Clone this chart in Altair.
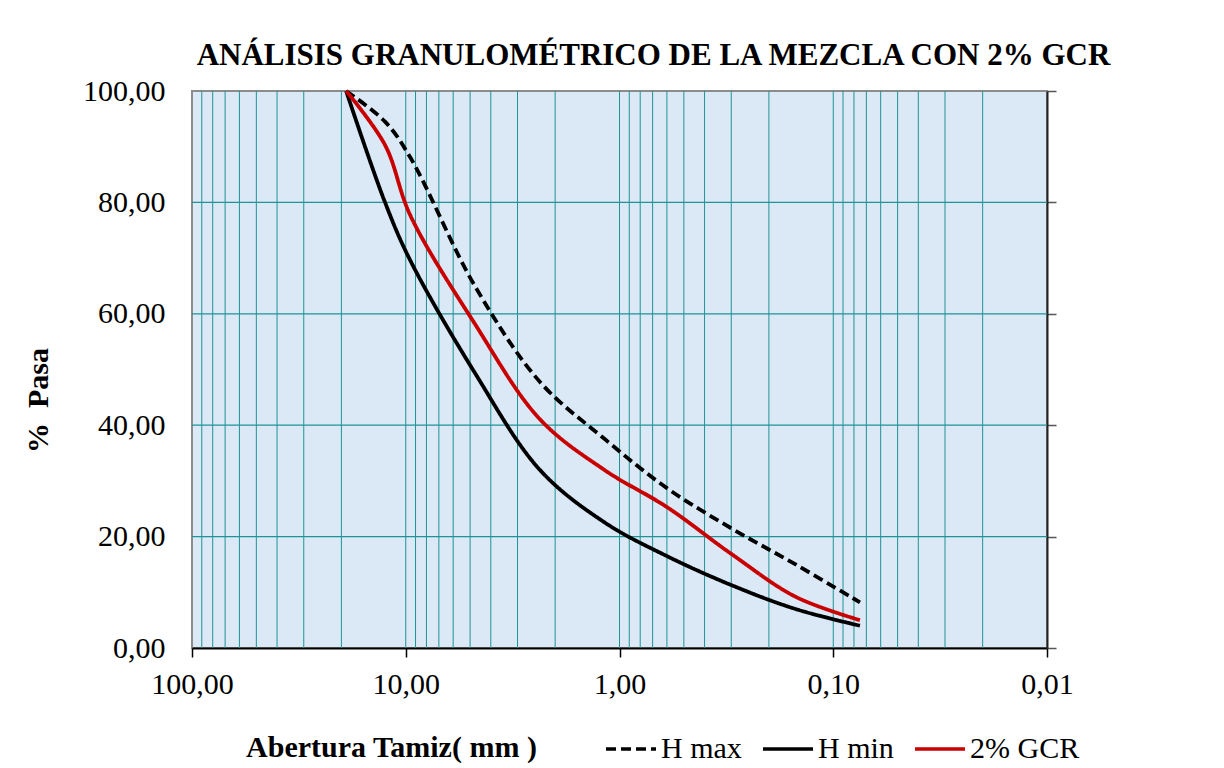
import altair as alt
import pandas as pd

# Sieve openings (mm) and % passing
tamiz_mm = [19.0, 12.5, 9.5, 4.75, 2.36, 1.18, 0.60, 0.30, 0.15, 0.075]
h_max = [100.0, 94.5, 88.0, 65.0, 47.8, 37.6, 28.7, 21.5, 15.0, 8.2]
h_min = [100.0, 80.0, 69.5, 49.4, 32.0, 22.6, 16.5, 11.3, 7.0, 4.0]
gcr_2 = [100.0, 90.3, 77.6, 58.2, 41.1, 32.0, 25.3, 16.9, 9.2, 5.0]
series_names = ["H max", "H min", "2% GCR"]

# Axis ticks / grid positions
x_ticks = [100, 10, 1, 0.1, 0.01]
x_grid = [90, 80, 70, 60, 50, 40, 30, 20, 10,
          9, 8, 7, 6, 5, 4, 3, 2, 1,
          0.9, 0.8, 0.7, 0.6, 0.5, 0.4, 0.3, 0.2, 0.1,
          0.09, 0.08, 0.07, 0.06, 0.05, 0.04, 0.03, 0.02]
y_ticks = [0, 20, 40, 60, 80, 100]
y_grid = [20, 40, 60, 80]

rows = []
for name, vals in zip(series_names, [h_max, h_min, gcr_2]):
    for d, v in zip(tamiz_mm, vals):
        rows.append({"d": d, "pasa": v, "serie": name})
df = pd.DataFrame(rows)
gx = pd.DataFrame({"d": x_grid})
gy = pd.DataFrame({"pasa": y_grid})

FONT = "Liberation Serif"
TEAL = "#1f9494"
fmt = "replace(format(datum.value, '.2f'), '.', ',')"

xscale = alt.Scale(type="log", domain=[0.01, 100], reverse=True, nice=False)
yscale = alt.Scale(domain=[0, 100], nice=False, zero=True)

xaxis = alt.Axis(values=x_ticks, labelExpr=fmt, grid=False, ticks=True, tickSize=9,
                 tickColor="#000000", tickWidth=1.5, domain=True, domainColor="#000000",
                 domainWidth=2, labelFontSize=30, labelFont=FONT, labelColor="#000000",
                 labelPadding=12, labelFlush=False,
                 title="Abertura Tamiz( mm )", titleFont=FONT, titleFontSize=30,
                 titleFontWeight="bold", titleColor="#000000", titleX=199, titleY=99,
                 titleBaseline="middle", titleAlign="center")
x_enc = alt.X("d:Q", scale=xscale, axis=xaxis)

left_axis = alt.Axis(orient="left", values=y_ticks, labelExpr=fmt, grid=False, ticks=False,
                     tickSize=0, domain=False, labelFontSize=30, labelFont=FONT,
                     labelColor="#000000", labelPadding=27,
                     title="%\u00a0\u00a0Pasa", titleFont=FONT, titleFontSize=30,
                     titleFontWeight="bold", titleColor="#000000",
                     titleX=-154, titleY=309, titleBaseline="middle", titleAlign="center",
                     titleAngle=270)
right_axis = alt.Axis(orient="right", values=y_ticks, labels=False, grid=False, ticks=True,
                      tickSize=9, tickColor="#555555", tickWidth=1.5, domain=True,
                      domainColor="#222222", domainWidth=2, title="")

legend_kw = dict(title=None, orient="none", legendX=412, legendY=631,
                 direction="horizontal", symbolType="stroke", symbolSize=2500,
                 symbolStrokeWidth=3.5, labelFont=FONT, labelFontSize=30,
                 labelColor="#000000", labelOffset=3, columnPadding=14,
                 padding=0, labelLimit=400)

vgrid = alt.Chart(gx).mark_rule(color=TEAL, strokeWidth=1).encode(x=x_enc)
hgrid = alt.Chart(gy).mark_rule(color=TEAL, strokeWidth=1.3).encode(
    y=alt.Y("pasa:Q", scale=yscale, axis=right_axis))

lines = alt.Chart(df).mark_line(strokeWidth=3.8, interpolate="catmull-rom").encode(
    x=x_enc,
    y=alt.Y("pasa:Q", scale=yscale, axis=left_axis),
    color=alt.Color("serie:N",
                    scale=alt.Scale(domain=series_names,
                                    range=["#000000", "#000000", "#c80000"]),
                    legend=alt.Legend(**legend_kw)),
    strokeDash=alt.StrokeDash("serie:N",
                              scale=alt.Scale(domain=series_names,
                                              range=[[10, 5], [1, 0], [1, 0]]),
                              legend=alt.Legend(**legend_kw)),
    order=alt.Order("d:Q", sort="descending"),
)

chart = alt.layer(vgrid, hgrid, lines).resolve_axis(y="independent").properties(
    width=855, height=557,
    autosize=alt.AutoSizeParams(type="none"),
    padding={"left": 192, "top": 91, "right": 177, "bottom": 120},
    title=alt.TitleParams(text="ANÁLISIS GRANULOMÉTRICO DE LA MEZCLA CON 2% GCR",
                          anchor="middle", frame="group", dx=34, offset=4,
                          font=FONT, fontSize=31, fontWeight="bold", color="#000000"),
    background="#ffffff",
).configure_view(fill="#dbe8f6", stroke="#8c8c8c", strokeWidth=2)

chart.save("out.html", embed_options={"renderer": "svg", "actions": False})
